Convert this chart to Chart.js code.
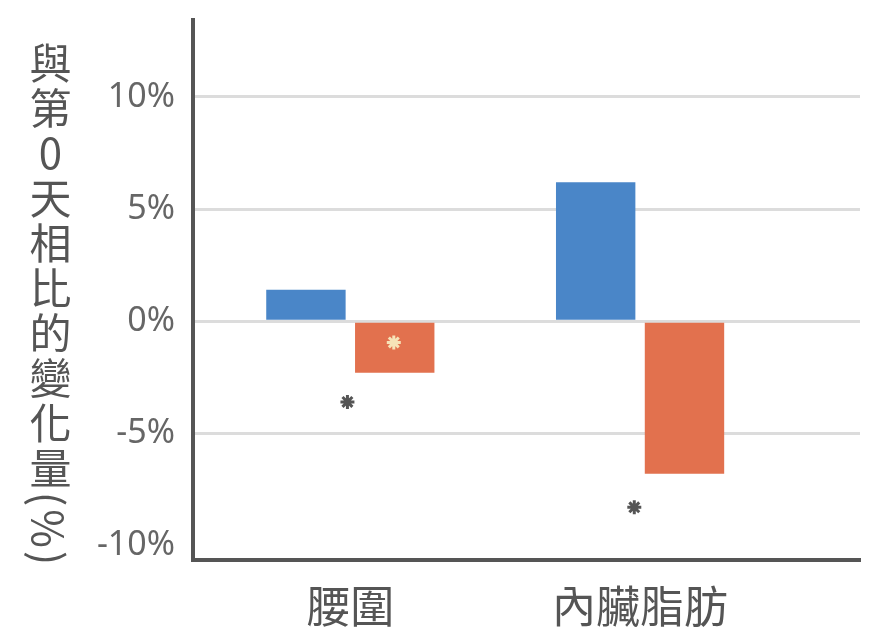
<!DOCTYPE html>
<html>
<head>
<meta charset="utf-8">
<script src="https://cdn.jsdelivr.net/npm/chart.js@4"></script>
<style>
    body { margin: 0; background: #fff; }
    #wrap { position: relative; width: 870px; height: 629px; }
    #ytitle {
        position: absolute; left: 26px; top: 42px;
        writing-mode: vertical-rl;
        white-space: nowrap;
        font-family: "Noto Sans CJK TC", sans-serif;
        font-size: 42px; line-height: 48px; color: #555;
        letter-spacing: 3px;
    }
    #ytitle .up { text-orientation: upright; }
</style>
</head>
<body>
<div id="wrap">
    <canvas id="chart"></canvas>
    <div id="ytitle">與第<span class="up">0</span>天相比的變化量(%)</div>
</div>
<script>
// Categorías y valores (%)
const categories = ["腰圍", "內臟脂肪"];
const catPos = [1, 2];
const seriesA = [1.4, 6.2];     // azul
const seriesB = [-2.3, -6.8];   // naranja
const yTicks = [-10, -5, 0, 5, 10];

// Asteriscos de significancia
const starX = [0.99, 1.15, 1.98];
const starY = [-3.6, -0.95, -8.3];
const starColors = ["#555555", "#f6e3b8", "#555555"];

function toPoints(xs, ys) {
    return xs.map((x, i) => ({ x: x, y: ys[i] }));
}

const ctx = document.getElementById("chart").getContext("2d");

new Chart(ctx, {
    type: "bar",
    data: {
        datasets: [
            {
                data: toPoints(catPos, seriesA),
                backgroundColor: "#4a86c8",
                categoryPercentage: 0.613,
                barPercentage: 0.894
            },
            {
                data: toPoints(catPos, seriesB),
                backgroundColor: "#e2714e",
                categoryPercentage: 0.613,
                barPercentage: 0.894
            },
            {
                type: "scatter",
                order: -1,
                data: toPoints(starX, starY),
                pointStyle: "star",
                radius: 7,
                borderWidth: 3,
                borderColor: starColors,
                backgroundColor: starColors
            }
        ]
    },
    options: {
        responsive: true,
        maintainAspectRatio: false,
        animation: false,
        layout: { padding: { top: 20, right: 1, left: 0, bottom: 0 } },
        plugins: {
            legend: { display: false },
            tooltip: { enabled: false }
        },
        scales: {
            x: {
                type: "linear",
                offset: false,
                min: 0.457,
                max: 2.759,
                grid: { display: false, drawTicks: false, offset: false },
                border: { display: true, color: "#555", width: 4 },
                afterBuildTicks: (scale) => {
                    scale.ticks = catPos.map(v => ({ value: v }));
                },
                afterFit: (scale) => { scale.height = 69; },
                ticks: {
                    autoSkip: false,
                    maxRotation: 0,
                    padding: 20,
                    color: "#555",
                    font: { family: "Noto Sans CJK TC", size: 44 },
                    callback: (v) => categories[catPos.indexOf(v)] || ""
                }
            },
            y: {
                min: -10.65,
                max: 13.43,
                afterBuildTicks: (scale) => {
                    scale.ticks = yTicks.map(v => ({ value: v }));
                },
                afterFit: (scale) => {
                    scale.width = 193;
                    scale.paddingTop = 0;
                },
                grid: {
                    drawTicks: false,
                    lineWidth: 3,
                    color: (c) => c.tick && c.tick.value === -10 ? "rgba(0,0,0,0)" : "#dcdcdc"
                },
                border: { display: true, color: "#555", width: 4 },
                ticks: {
                    padding: 18,
                    color: "#666",
                    font: { family: "Noto Sans", size: 34 },
                    callback: (v) => v + "%"
                }
            }
        }
    }
});
</script>
</body>
</html>
